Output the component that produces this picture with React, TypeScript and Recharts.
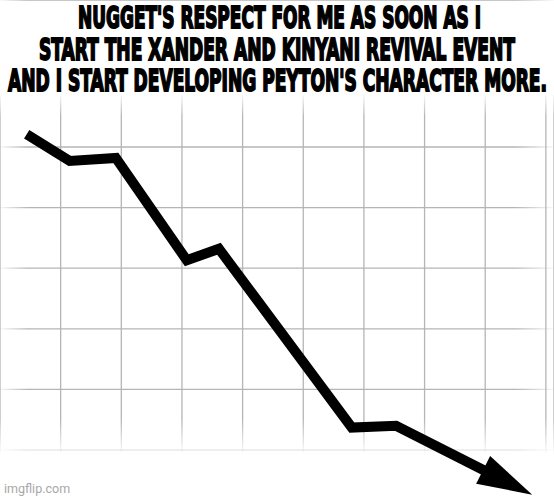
import { CartesianGrid, Line, LineChart, XAxis, YAxis } from 'recharts';

// meme "stonks" line in grid units
const time = [0.44, 1.15, 1.91, 3.08, 3.61, 5.8, 6.53, 8.01];
const respect = [5.21, 4.77, 4.82, 3.13, 3.32, 0.37, 0.4, -0.35];

const xTicks = [1, 2, 3, 4, 5, 6, 7, 8, 9];
const yTicks = [0, 1, 2, 3, 4, 5];

const titleLines = [
  "NUGGET'S RESPECT FOR ME AS SOON AS I",
  'START THE XANDER AND KINYANI REVIVAL EVENT',
  "AND I START DEVELOPING PEYTON'S CHARACTER MORE.",
];
// left edge, width and baseline of each caption line
const titleBoxes = [
  { x: 78, w: 403, y: 28 },
  { x: 39, w: 476, y: 59.5 },
  { x: 8, w: 539, y: 90.5 },
];

const data = time.map((t, i) => ({ t, respect: respect[i] }));

export default function App() {
  return (
    <div style={{ position: 'absolute', left: 0, top: 0, width: 554, height: 500, background: '#fff' }}>
      <style>{`
        .recharts-cartesian-grid-horizontal { mask: url(#fadeH); }
        .recharts-cartesian-grid-vertical { mask: url(#fadeV); }
      `}</style>
      <LineChart width={554} height={500} data={data} margin={{ top: 0, right: 0, bottom: 0, left: 0 }}>
        <defs>
          <linearGradient id="gradH" x1="0" y1="0" x2="554" y2="0" gradientUnits="userSpaceOnUse">
            <stop offset="0" stopColor="#fff" stopOpacity={0.1} />
            <stop offset="0.05" stopColor="#fff" stopOpacity={1} />
            <stop offset="0.93" stopColor="#fff" stopOpacity={1} />
            <stop offset="1" stopColor="#fff" stopOpacity={0.1} />
          </linearGradient>
          <linearGradient id="gradV" x1="0" y1="95" x2="0" y2="455" gradientUnits="userSpaceOnUse">
            <stop offset="0" stopColor="#fff" stopOpacity={0.1} />
            <stop offset="0.06" stopColor="#fff" stopOpacity={1} />
            <stop offset="0.9" stopColor="#fff" stopOpacity={1} />
            <stop offset="1" stopColor="#fff" stopOpacity={0} />
          </linearGradient>
          <mask id="fadeH" maskUnits="userSpaceOnUse" x="0" y="0" width="554" height="500">
            <rect x="0" y="0" width="554" height="440" fill="url(#gradH)" />
            <rect x="0" y="440" width="554" height="20" fill="url(#gradH)" opacity={0.3} />
          </mask>
          <mask id="fadeV" maskUnits="userSpaceOnUse" x="0" y="0" width="554" height="500">
            <rect x="0" y="0" width="554" height="500" fill="url(#gradV)" />
          </mask>
          <marker
            id="arrowHead"
            markerUnits="userSpaceOnUse"
            markerWidth={60}
            markerHeight={40}
            viewBox="-4 -20 60 40"
            refX={0}
            refY={0}
            orient="auto"
          >
            <path d="M-3,-15.5 L52,0 L-3,15.5 Z" fill="#000" />
          </marker>
        </defs>
        <XAxis type="number" dataKey="t" domain={[0, 9.134]} ticks={xTicks} hide />
        <YAxis type="number" domain={[-0.825, 7.426]} ticks={yTicks} hide />
        <CartesianGrid x={0} y={95} width={554} height={360} stroke="#b5b5b5" strokeWidth={1.3} />
        <Line
          type="linear"
          dataKey="respect"
          stroke="#000"
          strokeWidth={10}
          strokeLinejoin="miter"
          dot={false}
          activeDot={false}
          markerEnd="url(#arrowHead)"
          isAnimationActive={false}
        />
      </LineChart>
      <svg width={554} height={100} style={{ position: 'absolute', left: 0, top: 0 }}>
        {titleLines.map((line, i) => (
          <g key={line} transform={`translate(${titleBoxes[i].x} ${titleBoxes[i].y}) scale(1 1.68)`}>
            <text
              x={0}
              y={0}
              textLength={titleBoxes[i].w}
              lengthAdjust="spacingAndGlyphs"
              fontFamily="'DejaVu Sans Condensed', 'Liberation Sans Narrow', sans-serif"
              fontWeight={700}
              fontSize={18}
              fill="#000"
              stroke="#000"
              strokeWidth={1.1}
            >
              {line}
            </text>
          </g>
        ))}
      </svg>
      <div
        style={{
          position: 'absolute',
          left: 4,
          top: 481,
          fontFamily: 'Roboto, Arial, sans-serif',
          fontSize: 12.5,
          color: '#a8a8a8',
        }}
      >
        imgflip.com
      </div>
    </div>
  );
}
